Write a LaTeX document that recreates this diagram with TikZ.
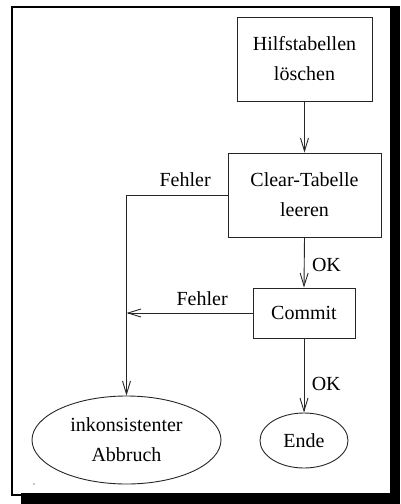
\documentclass[tikz,border=0pt]{standalone}
\usepackage{fontspec}
\setmainfont{Liberation Serif}
\usetikzlibrary{shapes.geometric,arrows.meta}

\tikzset{
  conn/.style={line width=0.9pt, draw=black!85},
  arr/.style={conn, -{Straight Barb[length=13pt,width=8pt,line width=0.9pt]}},
  procbox/.style={draw=black!85, line width=0.9pt, rectangle, align=center, inner sep=0pt},
  endstate/.style={draw=black!85, line width=0.9pt, ellipse, align=center, inner sep=0pt},
  lbl/.style={inner sep=2pt},
}

\begin{document}
\begin{tikzpicture}[x=1pt, y=-1pt, font=\fontsize{20}{30}\selectfont]
  \useasboundingbox (0,0) rectangle (400,504);

  % page frame with its shadow
  \fill[black] (11,5.7) rectangle (400,8.3);
  \fill[black] (11,5.7) rectangle (13.3,496.3);
  \fill[black] (11,494.3) rectangle (21,496.3);
  \fill[black] (21,493.3) rectangle (400,504);
  \fill[black] (390,5.7) rectangle (400,504);
  \fill[black!45] (34,484) circle (0.9);

  % process steps
  \node[procbox, minimum width=135, minimum height=84] (h) at (304.5,59)
    {Hilfstabellen\\löschen};
  \node[procbox, minimum width=153, minimum height=84] (c) at (304.5,195)
    {Clear-Tabelle\\leeren};
  \node[procbox, minimum width=102, minimum height=50] (m) at (304,313)
    {Commit};

  % final states
  \node[endstate, minimum width=88, minimum height=55] (e) at (304,440.5) {Ende};
  \node[endstate, minimum width=189, minimum height=88] (a) at (126.5,440)
    {inkonsistenter\\Abbruch};

  \coordinate (j) at (a.north |- m.west);

  % connectors
  \draw[arr] (h.south) -- (c.north);
  \draw[arr] (c.south) -- node[right, pos=0.55, xshift=4pt] {OK} (m.north);
  \draw[arr] (m.south) -- node[right, pos=0.62, xshift=4pt] {OK} (e.north);
  \draw[arr] (c.west) -| node[above, pos=0.21, lbl, yshift=6pt] {Fehler} (a.north);
  \draw[arr] (m.west) -- node[above, pos=0.4, lbl, yshift=5pt] {Fehler} (j);
\end{tikzpicture}
\end{document}
